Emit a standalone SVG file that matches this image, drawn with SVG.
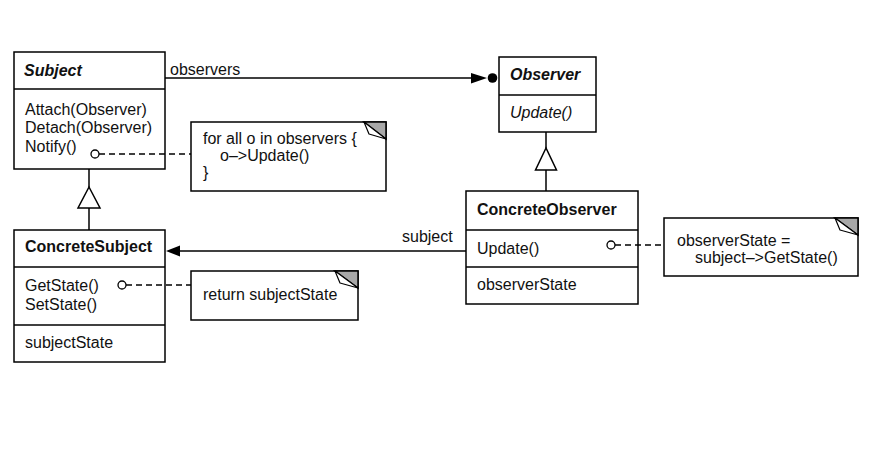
<svg xmlns="http://www.w3.org/2000/svg" width="875" height="460" viewBox="0 0 875 460">
<style>
text{font-family:"Liberation Sans",Arial,sans-serif;font-size:16px;fill:#111}
.b{font-weight:bold}
.i{font-style:italic}
.box{fill:#fff;stroke:#000;stroke-width:1.5}
.ln{stroke:#000;stroke-width:1.5;fill:none}
.dash{stroke:#000;stroke-width:1.5;fill:none;stroke-dasharray:6,4}
.ear{fill:#a8a8a8;stroke:#000;stroke-width:1.5}
.fold{fill:#fff;stroke:#000;stroke-width:1.2;stroke-linejoin:round}
.dot{fill:#fff;stroke:#000;stroke-width:1.3}
.tri{fill:#fff;stroke:#000;stroke-width:1.5}
</style>
<rect width="875" height="460" fill="#fff"/>
<g id="Subject">
<rect class="box" x="14" y="52" width="151" height="117"/>
<line class="ln" x1="14" y1="89" x2="165" y2="89"/>
<text class="b i" x="24" y="76">Subject</text>
<text x="25" y="115">Attach(Observer)</text>
<text x="25" y="133">Detach(Observer)</text>
<text x="25" y="152">Notify()</text>
</g>
<g id="Observer">
<rect class="box" x="499" y="57" width="97" height="75"/>
<line class="ln" x1="499" y1="95" x2="596" y2="95"/>
<text class="b i" x="510" y="80">Observer</text>
<text class="i" x="510" y="118">Update()</text>
</g>
<g id="ConcreteSubject">
<rect class="box" x="14" y="230" width="151" height="132"/>
<line class="ln" x1="14" y1="267" x2="165" y2="267"/>
<line class="ln" x1="14" y1="325" x2="165" y2="325"/>
<text class="b" x="25" y="252">ConcreteSubject</text>
<text x="25" y="291">GetState()</text>
<text x="25" y="310">SetState()</text>
<text x="25" y="348">subjectState</text>
</g>
<g id="ConcreteObserver">
<rect class="box" x="466" y="191" width="172" height="113"/>
<line class="ln" x1="466" y1="230" x2="638" y2="230"/>
<line class="ln" x1="466" y1="267" x2="638" y2="267"/>
<text class="b" x="477" y="215">ConcreteObserver</text>
<text x="477" y="254">Update()</text>
<text x="477" y="290">observerState</text>
</g>
<g id="note-notify">
<rect class="box" x="191" y="122" width="195" height="69"/>
<polygon class="ear" points="364,122 386,122 386,139"/>
<polygon class="fold" points="364,122 369,134 386,139"/>
<text x="203" y="144">for all o in observers {</text>
<text x="220" y="161">o–&gt;Update()</text>
<text x="203" y="178">}</text>
</g>
<g id="note-getstate">
<rect class="box" x="191" y="271" width="167" height="49"/>
<polygon class="ear" points="335,271 358,271 358,288"/>
<polygon class="fold" points="335,271 340,283 358,288"/>
<text x="203" y="300">return subjectState</text>
</g>
<g id="note-update">
<rect class="box" x="664" y="218" width="194" height="58"/>
<polygon class="ear" points="835,218 858,218 858,235"/>
<polygon class="fold" points="835,218 840,230 858,235"/>
<text x="677" y="246">observerState =</text>
<text x="695" y="263">subject–&gt;GetState()</text>
</g>
<g id="connectors">
<line class="ln" x1="165" y1="78" x2="473" y2="78"/>
<polygon points="471,73 471,83.5 487,78" fill="#000"/>
<circle cx="492.5" cy="78" r="4.8" fill="#000"/>
<line class="ln" x1="466" y1="251" x2="178" y2="251"/>
<polygon points="166,251 180,245.5 180,256.5" fill="#000"/>
<line class="ln" x1="89" y1="169" x2="89" y2="187"/>
<polygon class="tri" points="89,187 78,208 100,208"/>
<line class="ln" x1="89" y1="208" x2="89" y2="230"/>
<line class="ln" x1="546" y1="132" x2="546" y2="148"/>
<polygon class="tri" points="546,148 535.5,170 556.5,170"/>
<line class="ln" x1="546" y1="170" x2="546" y2="191"/>
<line class="dash" x1="99" y1="154" x2="191" y2="154"/>
<circle class="dot" cx="95" cy="154" r="4"/>
<line class="dash" x1="126" y1="285" x2="191" y2="285"/>
<circle class="dot" cx="122" cy="285" r="4"/>
<line class="dash" x1="615" y1="245" x2="664" y2="245"/>
<circle class="dot" cx="611" cy="245" r="4"/>
<text x="170" y="75">observers</text>
<text x="402" y="242">subject</text>
</g>
</svg>
